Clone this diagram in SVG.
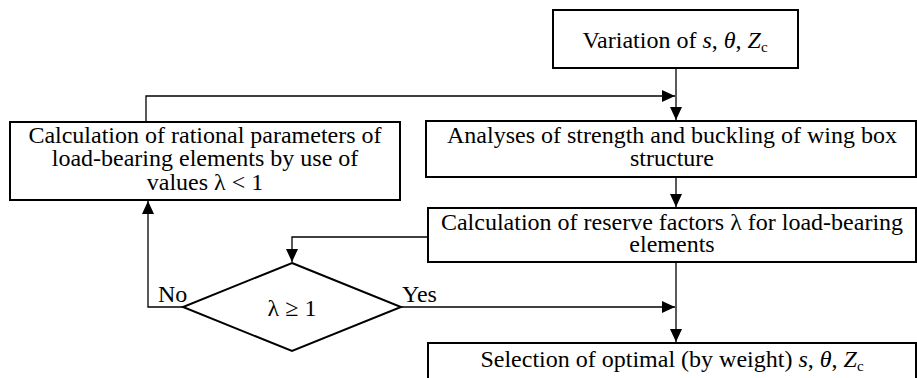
<svg xmlns="http://www.w3.org/2000/svg" width="917" height="378" viewBox="0 0 917 378">
<style>
.box{fill:#fff;stroke:#000;stroke-width:2}
text{font-family:'Liberation Serif','Times New Roman',Times,serif;font-size:24px;fill:#000}
.t{text-anchor:middle}
.c{fill:none;stroke:#000;stroke-width:1.3}
.i{font-style:italic}
.s{font-size:15px}
</style>
<defs>
<marker id="a" markerWidth="14" markerHeight="12" refX="13" refY="6" orient="auto" markerUnits="userSpaceOnUse">
<path d="M0,0 L13,6 L0,12 Z" fill="#000"/>
</marker>
</defs>
<rect width="917" height="378" fill="#fff"/>
<g id="connectors">
<path class="c" d="M676,68 V120" marker-end="url(#a)"/>
<path class="c" d="M146,122 V96 H675" marker-end="url(#a)"/>
<path class="c" d="M676,177 V207" marker-end="url(#a)"/>
<path class="c" d="M428,237 H292 V262" marker-end="url(#a)"/>
<path class="c" d="M183,307 H148 V201" marker-end="url(#a)"/>
<path class="c" d="M401,307 H675" marker-end="url(#a)"/>
<path class="c" d="M676,262 V342" marker-end="url(#a)"/>
</g>
<g id="n1">
<rect class="box" x="553" y="10" width="245" height="58"/>
<text class="t" x="675" y="48">Variation of <tspan class="i">s</tspan>,  <tspan class="i">θ</tspan>, <tspan class="i">Z</tspan><tspan class="s" dy="4">c</tspan></text>
</g>
<g id="n2">
<rect class="box" x="10" y="122" width="390" height="78"/>
<text class="t" x="205" y="143">Calculation of rational parameters of</text>
<text class="t" x="205" y="166">load-bearing elements by use of</text>
<text class="t" x="205" y="190">values λ &lt; 1</text>
</g>
<g id="n3">
<rect class="box" x="426" y="121" width="490" height="56"/>
<text class="t" x="672" y="143">Analyses of strength and buckling of wing box</text>
<text class="t" x="672" y="166">structure</text>
</g>
<g id="n4">
<rect class="box" x="428" y="208" width="488" height="54"/>
<text class="t" x="672" y="230">Calculation of reserve factors λ for load-bearing</text>
<text class="t" x="672" y="252">elements</text>
</g>
<g id="n5">
<polygon class="box" points="292,263 401,307 292,351 183,307"/>
<text class="t" x="292" y="316">λ ≥ 1</text>
<text x="158" y="302">No</text>
<text x="402" y="302">Yes</text>
</g>
<g id="n6">
<rect class="box" x="428" y="343" width="488" height="50"/>
<text class="t" x="672" y="367">Selection of optimal (by weight) <tspan class="i">s</tspan>,  <tspan class="i">θ</tspan>, <tspan class="i">Z</tspan><tspan class="s" dy="4">c</tspan></text>
</g>
</svg>
